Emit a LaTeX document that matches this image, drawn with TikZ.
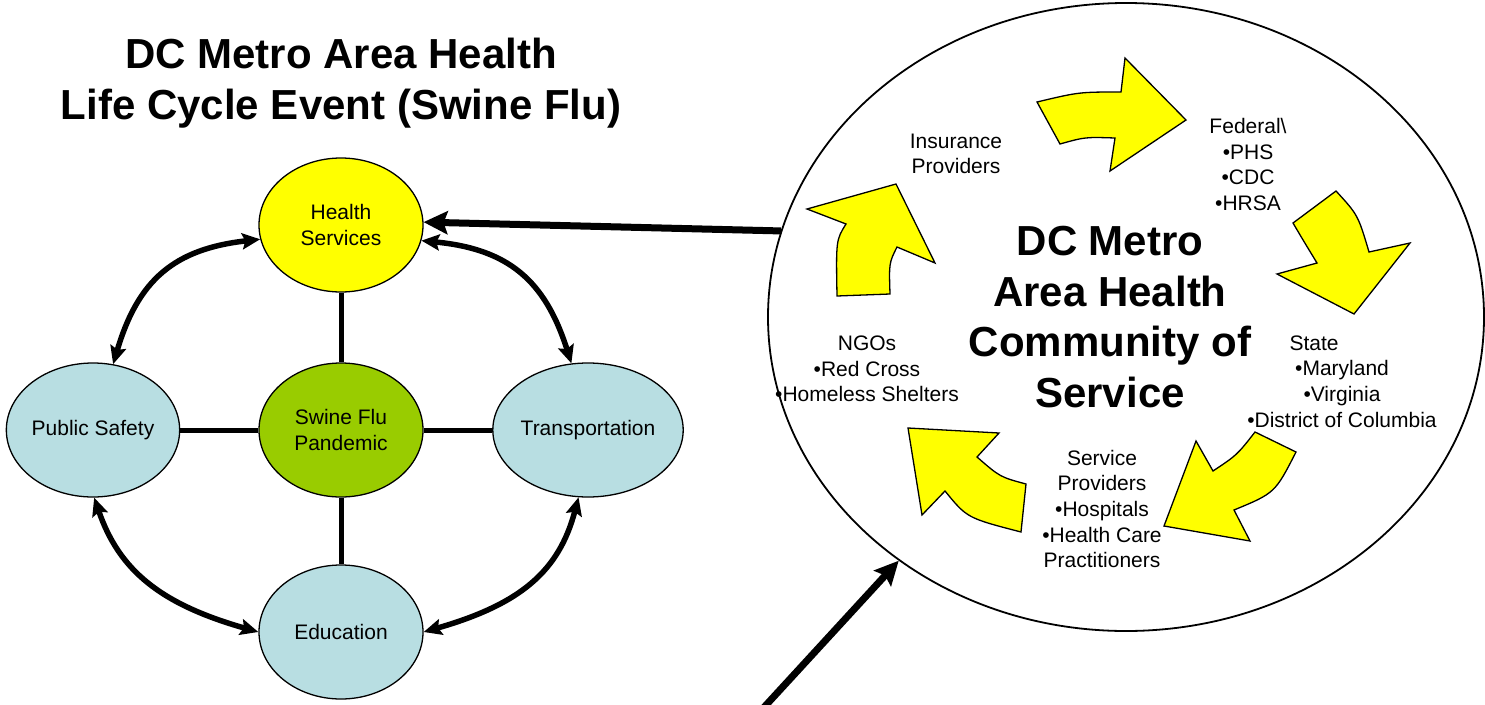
\documentclass[tikz,border=0pt]{standalone}
\usepackage{fontspec}
\setmainfont{Liberation Sans}
\usetikzlibrary{arrows.meta,shapes.geometric}
\definecolor{hsyellow}{HTML}{FFFF00}
\definecolor{swgreen}{HTML}{99CC00}
\definecolor{ltblue}{HTML}{B8DEE2}
\begin{document}
\begin{tikzpicture}[x=1pt,y=-1pt,
  circ/.style={draw, ellipse, minimum width=164pt, minimum height=134pt, inner sep=0pt, line width=1.3pt, align=center, font=\fontsize{21}{25.7}\selectfont},
  conn/.style={line width=5pt},
  dbl/.style={line width=5.5pt, {Stealth[length=18pt,width=16pt,inset=3pt]}-{Stealth[length=18pt,width=16pt,inset=3pt]}},
  bigarr/.style={line width=7pt, -{Stealth[length=24pt,width=23pt,inset=4pt]}},
  ytext/.style={align=center, font=\fontsize{21}{25.7}\selectfont},
  bigtitle/.style={align=center, font=\fontsize{42}{50.5}\selectfont\bfseries},
  yarrow/.style={fill=hsyellow, draw=black, line width=1.3pt, line join=miter}
]
\useasboundingbox (0,0) rectangle (1485,704);

% left title
\node[bigtitle] (title) at (341,83) {DC Metro Area Health\\Life Cycle Event (Swine Flu)};

% left graph
\node[circ, fill=hsyellow] (hs) at (341,225) {Health\\Services};
\node[circ, fill=swgreen] (sf) at (341,430) {Swine Flu\\Pandemic};
\node[circ, fill=ltblue] (ps) at (93,430) {Public Safety};
\node[circ, fill=ltblue] (tr) at (588,430) {Transportation};
\node[circ, fill=ltblue] (ed) at (341,632) {Education};

\draw[conn] (hs) -- (sf);
\draw[conn] (sf) -- (ed);
\draw[conn] (ps) -- (sf);
\draw[conn] (sf) -- (tr);

\draw[dbl] (hs.190) .. controls (174,249) and (138,280) .. (ps.73);
\draw[dbl] (hs.349) .. controls (508,249) and (545,280) .. (tr.104);
\draw[dbl] (ps.271) .. controls (119,570) and (160,604) .. (ed.180);
\draw[dbl] (tr.262) .. controls (559,571) and (521,604) .. (ed.0);

% right community ellipse
\node[draw, ellipse, minimum width=716pt, minimum height=628pt, inner sep=0pt, line width=1.8pt] (cs) at (1126,317) {};

% yellow cycle arrows
\draw[yarrow] (1037,102) .. controls (1079,92) .. (1121,92) -- (1125,58) -- (1186,120) -- (1110,171) -- (1115,138) .. controls (1085,137) .. (1060,144) -- cycle;
\draw[yarrow] (1336,191) .. controls (1358,215) .. (1369,252) -- (1410,243) -- (1354,314) -- (1277,274) -- (1317,263) .. controls (1303,240) .. (1293,223) -- cycle;
\draw[yarrow] (1255,432) -- (1296,452) .. controls (1275,493) .. (1234,510) -- (1250,541) -- (1164,526) -- (1196,441) -- (1213,471) .. controls (1237,455) .. (1255,432) -- cycle;
\draw[yarrow] (1021,532) -- (1026,484) .. controls (1000,477) .. (977,457) -- (999,433) -- (908,428) -- (922,515) -- (945,491) .. controls (967,518) .. (1021,532) -- cycle;
\draw[yarrow] (837,296) -- (890,294) .. controls (889,263) .. (897,247) -- (935,263) -- (896,184) -- (807,209) -- (846,224) .. controls (836,240) .. (837,296) -- cycle;

% texts in the ellipse
\node[bigtitle] (cstitle) at (1110,317) {DC Metro\\Area Health\\Community of\\Service};
\node[ytext] (ins) at (956,154) {Insurance\\Providers};
\node[ytext] (fed) at (1248,164.5) {Federal\textbackslash\\•PHS\\•CDC\\•HRSA};
\node[ytext] (state) at (1342,381.5) {State\hspace*{56pt}\\•Maryland\\•Virginia\\•District of Columbia};
\node[ytext] (svc) at (1102,509) {Service\\Providers\\•Hospitals\\•Health Care\\Practitioners};
\node[ytext] (ngo) at (867,369) {NGOs\\•Red Cross\\•Homeless Shelters};

% big arrows
\draw[bigarr] (cs.166) -- (hs.2);
\coordinate (tailpt) at (756,716);
\draw[bigarr] (tailpt) -- (cs.227);
\end{tikzpicture}
\end{document}
